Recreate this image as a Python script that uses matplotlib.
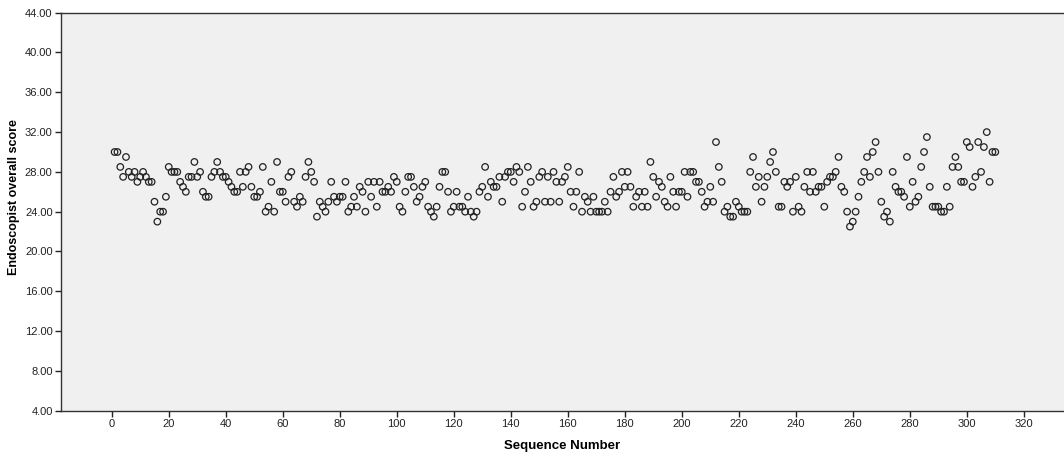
import matplotlib
matplotlib.use("Agg")
import matplotlib.pyplot as plt
import numpy as np
from matplotlib.ticker import FormatStrFormatter, MultipleLocator

plt.rcParams['font.family'] = ['Liberation Sans', 'DejaVu Sans']

scores = [
    30, 30, 28.5, 27.5, 29.5, 28, 27.5, 28, 27, 27.5,
    28, 27.5, 27, 27, 25, 23, 24, 24, 25.5, 28.5,
    28, 28, 28, 27, 26.5, 26, 27.5, 27.5, 29, 27.5,
    28, 26, 25.5, 25.5, 27.5, 28, 29, 28, 27.5, 27.5,
    27, 26.5, 26, 26, 28, 26.5, 28, 28.5, 26.5, 25.5,
    25.5, 26, 28.5, 24, 24.5, 27, 24, 29, 26, 26,
    25, 27.5, 28, 25, 24.5, 25.5, 25, 27.5, 29, 28,
    27, 23.5, 25, 24.5, 24, 25, 27, 25.5, 25, 25.5,
    25.5, 27, 24, 24.5, 25.5, 24.5, 26.5, 26, 24, 27,
    25.5, 27, 24.5, 27, 26, 26, 26.5, 26, 27.5, 27,
    24.5, 24, 26, 27.5, 27.5, 26.5, 25, 25.5, 26.5, 27,
    24.5, 24, 23.5, 24.5, 26.5, 28, 28, 26, 24, 24.5,
    26, 24.5, 24.5, 24, 25.5, 24, 23.5, 24, 26, 26.5,
    28.5, 25.5, 27, 26.5, 26.5, 27.5, 25, 27.5, 28, 28,
    27, 28.5, 28, 24.5, 26, 28.5, 27, 24.5, 25, 27.5,
    28, 25, 27.5, 25, 28, 27, 25, 27, 27.5, 28.5,
    26, 24.5, 26, 28, 24, 25.5, 25, 24, 25.5, 24,
    24, 24, 25, 24, 26, 27.5, 25.5, 26, 28, 26.5,
    28, 26.5, 24.5, 25.5, 26, 24.5, 26, 24.5, 29, 27.5,
    25.5, 27, 26.5, 25, 24.5, 27.5, 26, 24.5, 26, 26,
    28, 25.5, 28, 28, 27, 27, 26, 24.5, 25, 26.5,
    25, 31, 28.5, 27, 24, 24.5, 23.5, 23.5, 25, 24.5,
    24, 24, 24, 28, 29.5, 26.5, 27.5, 25, 26.5, 27.5,
    29, 30, 28, 24.5, 24.5, 27, 26.5, 27, 24, 27.5,
    24.5, 24, 26.5, 28, 26, 28, 26, 26.5, 26.5, 24.5,
    27, 27.5, 27.5, 28, 29.5, 26.5, 26, 24, 22.5, 23,
    24, 25.5, 27, 28, 29.5, 27.5, 30, 31, 28, 25,
    23.5, 24, 23, 28, 26.5, 26, 26, 25.5, 29.5, 24.5,
    27, 25, 25.5, 28.5, 30, 31.5, 26.5, 24.5, 24.5, 24.5,
    24, 24, 26.5, 24.5, 28.5, 29.5, 28.5, 27, 27, 31,
    30.5, 26.5, 27.5, 31, 28, 30.5, 32, 27, 30, 30,
]
sequence = list(range(1, len(scores) + 1))

x_ticks = list(range(0, 321, 20))
y_ticks = list(range(4, 45, 4))

W, H = 1064, 459
fig = plt.figure(figsize=(W / 100, H / 100), dpi=100)
fig.patch.set_facecolor('white')
left, right, top, bottom = 61, 1064, 12.7, 410.7
ax = fig.add_axes([left / W, 1 - bottom / H, (right - left) / W, (bottom - top) / H])
ax.set_facecolor('#f0f0f0')

ax.scatter(sequence, scores, s=22, facecolors='none', edgecolors='#222222', linewidths=0.9, zorder=3)

ax.set_xlim(-17.8, 334.1)
ax.set_ylim(4, 44)
ax.set_xticks(x_ticks)
ax.set_yticks(y_ticks)
ax.yaxis.set_major_formatter(FormatStrFormatter('%.2f'))
ax.tick_params(axis='both', direction='out', length=4, width=1, labelsize=8, colors='#222222', pad=2)

for side in ['top', 'left', 'bottom']:
    ax.spines[side].set_color('#333333')
    ax.spines[side].set_linewidth(1)
ax.spines['right'].set_visible(False)

ax.set_xlabel('Sequence Number', fontsize=9.5, fontweight='bold', labelpad=8)
ax.set_ylabel('Endoscopist overall score', fontsize=9, fontweight='bold')
ax.yaxis.set_label_coords(-0.041, 0.536)

fig.savefig('out.png', dpi=100)
